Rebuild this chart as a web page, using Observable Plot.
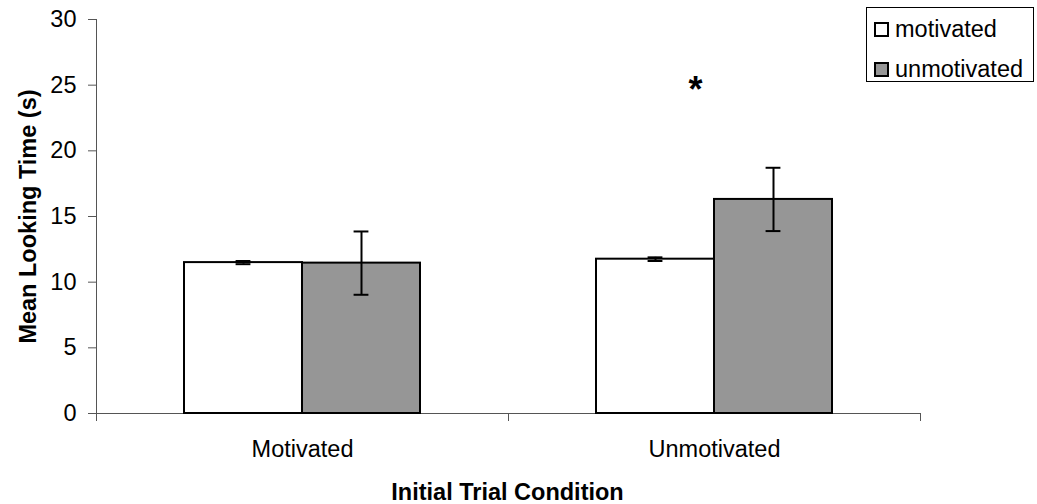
<!DOCTYPE html>
<html>
<head>
<meta charset="utf-8">
<script src="https://cdn.jsdelivr.net/npm/d3@7"></script>
<script src="https://cdn.jsdelivr.net/npm/@observablehq/plot@0.6"></script>
<style>
  html, body { margin: 0; padding: 0; background: #fff; }
  #wrap { position: relative; width: 1037px; height: 504px; font-family: "Liberation Sans", Arial, sans-serif; }
  #legend { position: absolute; left: 866px; top: 7px; width: 168px; height: 75px; border: 1px solid #000; box-sizing: border-box; background: #fff; }
  .item { position: absolute; left: 7px; height: 27px; display: flex; align-items: center; font-size: 23.5px; color: #000; white-space: nowrap; }
  .sw { width: 15px; height: 15px; border: 2px solid #000; box-sizing: border-box; margin-right: 6px; }
</style>
</head>
<body>
<div id="wrap"></div>
<script>
// ---- data ----
const groups = ["Motivated", "Unmotivated"];            // initial trial condition (x categories)
const series = ["motivated", "unmotivated"];            // legend series
const meansMotivated = [11.49, 11.75];
const meansUnmotivated = [11.45, 16.30];
const errMotivated = [0.12, 0.14];
const errUnmotivated = [2.41, 2.41];
const yTicks = [0, 5, 10, 15, 20, 25, 30];
const seriesColors = ["#ffffff", "#969696"];
const annotations = [{group: "Unmotivated", label: "*", y: 23.7}];
const yTitle = "Mean Looking Time (s)";
const xTitle = "Initial Trial Condition";

// ---- build rows ----
const barFrac = 0.2864;                       // each bar's share of a group band
const startFrac = 0.5 - barFrac;             // bars are centred on the band
const rows = [];
groups.forEach((g, gi) => {
  [[meansMotivated, errMotivated], [meansUnmotivated, errUnmotivated]].forEach(([m, e], si) => {
    const x1 = gi + startFrac + si * barFrac;
    rows.push({group: g, series: series[si], x1, x2: x1 + barFrac, xc: x1 + barFrac / 2, mean: m[gi], err: e[gi]});
  });
});
const cap = 0.018;
const axisColor = "#555";

const chart = Plot.plot({
  width: 1037,
  height: 504,
  marginLeft: 96,
  marginRight: 117,
  marginTop: 19,
  marginBottom: 91,
  style: {fontFamily: "'Liberation Sans', Arial, sans-serif", fontSize: "23.5px", color: "#000", background: "#fff", overflow: "visible"},
  x: {type: "linear", domain: [0, groups.length]},
  y: {domain: [0, 30]},
  color: {domain: series, range: seriesColors},
  marks: [
    Plot.ruleY([0], {x1: 0, x2: groups.length, stroke: axisColor}),
    Plot.ruleX([0], {y1: 0, y2: 30, stroke: axisColor}),
    Plot.axisY({ticks: yTicks, tickSize: 8, tickPadding: 12, label: null, stroke: axisColor, fill: "#000"}),
    Plot.axisX({ticks: d3.range(groups.length + 1), tickSize: 8, tickFormat: () => "", label: null, stroke: axisColor}),
    Plot.axisX({ticks: groups.map((g, i) => i + 0.5), tickSize: 0, tickPadding: 27, tickFormat: v => groups[Math.floor(v)], label: null, fill: "#000"}),
    Plot.rectY(rows, {x1: "x1", x2: "x2", y1: 0, y2: "mean", fill: d => d.series, stroke: "#000", strokeWidth: 2}),
    Plot.ruleX(rows, {x: "xc", y1: d => d.mean - d.err, y2: d => d.mean + d.err, stroke: "#000", strokeWidth: 2}),
    Plot.ruleY(rows, {y: d => d.mean + d.err, x1: d => d.xc - cap, x2: d => d.xc + cap, stroke: "#000", strokeWidth: 2}),
    Plot.ruleY(rows, {y: d => d.mean - d.err, x1: d => d.xc - cap, x2: d => d.xc + cap, stroke: "#000", strokeWidth: 2}),
    Plot.text(annotations, {x: d => groups.indexOf(d.group) + 0.5, y: "y", text: "label", dx: -19, lineAnchor: "bottom", fontSize: 36, fontWeight: "bold"}),
    Plot.text([yTitle], {frameAnchor: "left", rotate: -90, dx: -61, lineAnchor: "bottom", textAnchor: "middle", fontWeight: "bold"}),
    Plot.text([xTitle], {frameAnchor: "bottom", dy: 86, dx: -1, lineAnchor: "bottom", textAnchor: "middle", fontWeight: "bold"})
  ]
});

const wrap = document.getElementById("wrap");
wrap.appendChild(chart);

// legend
const legend = document.createElement("div");
legend.id = "legend";
series.forEach((s, i) => {
  const item = document.createElement("div");
  item.className = "item";
  item.style.top = (i === 0 ? 8 : 48) + "px";
  const sw = document.createElement("div");
  sw.className = "sw";
  sw.style.background = seriesColors[i];
  item.appendChild(sw);
  const t = document.createElement("span");
  t.textContent = s;
  item.appendChild(t);
  legend.appendChild(item);
});
wrap.appendChild(legend);
</script>
</body>
</html>
